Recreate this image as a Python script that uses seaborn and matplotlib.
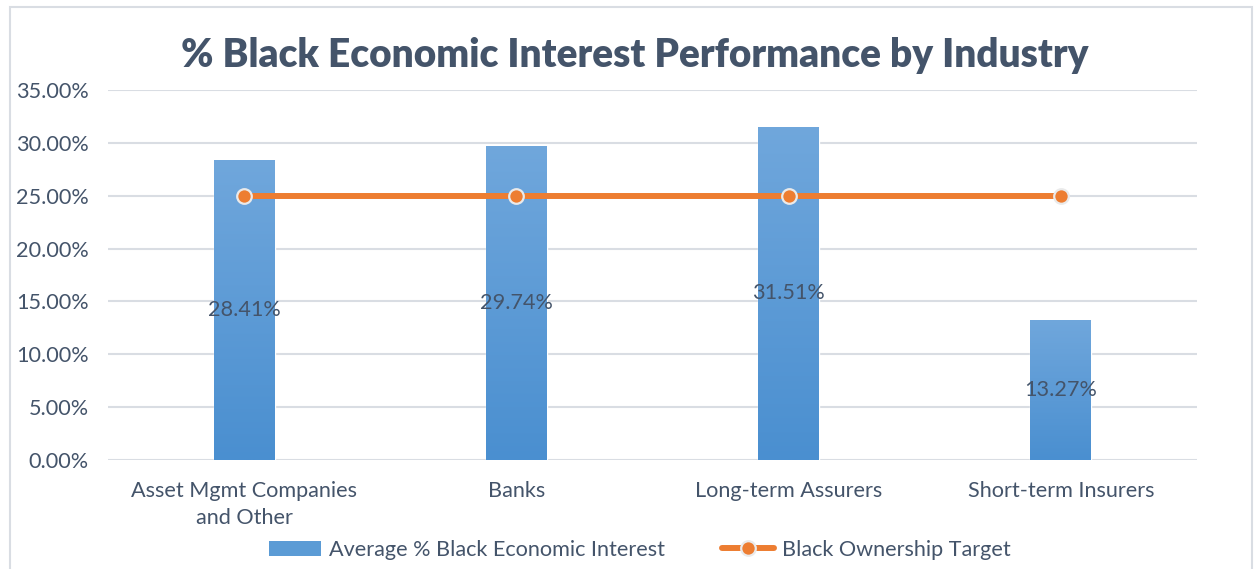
import numpy as np
import matplotlib
matplotlib.use("Agg")
import matplotlib.pyplot as plt
import seaborn as sns
from matplotlib.patches import Patch, Rectangle
from matplotlib.lines import Line2D
from matplotlib.ticker import PercentFormatter
from matplotlib.colors import LinearSegmentedColormap

categories = ["Asset Mgmt Companies\nand Other", "Banks", "Long-term Assurers", "Short-term Insurers"]
avg_interest = [28.41, 29.74, 31.51, 13.27]
target = [25.0, 25.0, 25.0, 25.0]
bar_labels = ["28.41%", "29.74%", "31.51%", "13.27%"]
yticks = [0, 5, 10, 15, 20, 25, 30, 35]

sns.set_theme(style="white")
plt.rcParams['font.family'] = ['Lato', 'DejaVu Sans']

TXT = "#44546a"
BLUE = "#5b9bd5"
ORANGE = "#ed7d31"
FS = 15.6

fig = plt.figure(figsize=(12.55, 5.69), dpi=100)
ax = fig.add_axes([108/1255, 1-460/569, (1197-108)/1255, (460-90)/569])

sns.barplot(x=categories, y=avg_interest, color=BLUE, width=0.224, ax=ax,
            saturation=1, zorder=2)

# gradient fill
grad = np.linspace(0, 1, 256).reshape(-1, 1)
cmap = LinearSegmentedColormap.from_list("g", ["#4a8fd0", "#70a7dc"])
for p in ax.patches:
    x0, y0 = p.get_x(), p.get_y()
    w, h = p.get_width(), p.get_height()
    im = ax.imshow(grad, extent=[x0, x0 + w, y0, y0 + h], origin="lower",
                   cmap=cmap, aspect="auto", zorder=2.5)
    im.set_clip_path(p)

ax.bar_label(ax.containers[0], labels=bar_labels, label_type="center",
             fontsize=FS, color=TXT, zorder=5)

sns.pointplot(x=categories, y=target, color=ORANGE, ax=ax, markers="o",
              linewidth=4.3, markersize=10.5, markeredgecolor="#eaeaea",
              markeredgewidth=1.6, zorder=4)

ax.set_xlim(-0.5, 3.5)
ax.set_ylim(0, 35)
ax.set_yticks(yticks)
ax.yaxis.set_major_formatter(PercentFormatter(decimals=2))
ax.grid(axis="y", color="#d9dde3", linewidth=1.5, zorder=0)
ax.set_axisbelow(True)
for s in ax.spines.values():
    s.set_visible(False)
ax.tick_params(axis="both", length=0, labelsize=FS, labelcolor=TXT)
ax.tick_params(axis="y", pad=14)
ax.tick_params(axis="x", pad=15)
for t in ax.get_xticklabels():
    t.set_linespacing(1.45)
ax.set_xlabel("")
ax.set_ylabel("")

fig.text(635/1255, 1-55/569, "% Black Economic Interest Performance by Industry",
         ha="center", va="center", fontsize=27.9, fontweight="heavy", color=TXT)

handles = [Patch(facecolor=BLUE, edgecolor="none"),
           Line2D([0], [0], color=ORANGE, linewidth=4.3, marker="o", markersize=10.5,
                  markerfacecolor=ORANGE, markeredgecolor="#eaeaea", markeredgewidth=1.6)]
fig.legend(handles, ["Average % Black Economic Interest", "Black Ownership Target"],
           loc="center", bbox_to_anchor=(640/1255, 1-550/569), ncol=2, frameon=False,
           fontsize=FS, labelcolor=TXT, handlelength=2.4, handleheight=0.7,
           columnspacing=2.6, handletextpad=0.4)

fig.add_artist(Rectangle((10/1255, -0.05), (1252-10)/1255, 1.05 - 7/569,
                         transform=fig.transFigure, fill=False,
                         edgecolor="#d9dde3", linewidth=1.5))

fig.savefig("out.png", dpi=100)
